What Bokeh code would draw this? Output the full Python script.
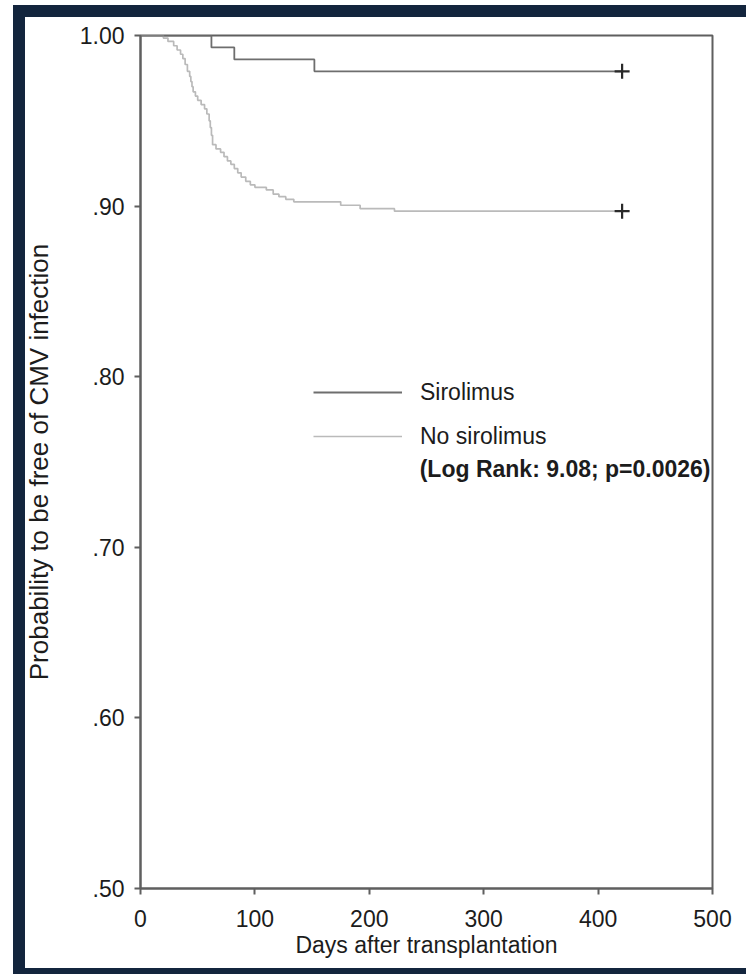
from bokeh.plotting import figure
from bokeh.models import Range1d, FixedTicker, Legend, LegendItem, Label
from bokeh.embed import file_html
from bokeh.resources import INLINE

# Kaplan-Meier steps: day of each step and survival after it
siro_days = [0, 62, 82, 152, 421]
siro_surv = [1.0, 0.993, 0.986, 0.979, 0.979]

nosiro_days = [0, 20, 24, 29, 32, 35, 37, 39, 41, 43,
               44, 45, 46, 48, 50, 53, 56, 58, 60, 61,
               62, 63, 66, 70, 73, 76, 79, 82, 85, 88,
               92, 96, 100, 110, 116, 121, 127, 134, 175, 192,
               222, 421]
nosiro_surv = [1.0, 0.9985, 0.9965, 0.994, 0.9915, 0.989, 0.9865, 0.983, 0.979, 0.976,
               0.973, 0.970, 0.967, 0.9645, 0.962, 0.9595, 0.957, 0.954, 0.950, 0.946,
               0.9415, 0.936, 0.9335, 0.9315, 0.929, 0.9265, 0.9245, 0.922, 0.9195, 0.917,
               0.9145, 0.9125, 0.911, 0.9095, 0.907, 0.9055, 0.904, 0.9025, 0.9005, 0.8985,
               0.897, 0.897]

x_ticks = [0, 100, 200, 300, 400, 500]
y_ticks = [0.5, 0.6, 0.7, 0.8, 0.9, 1.0]
y_tick_labels = [".50", ".60", ".70", ".80", ".90", "1.00"]

FONT = "Liberation Sans"
TEXT = "#1c1c1c"
AXIS = "#5f5f5f"
NAVY = "#13253d"

# dark page frame on the left, top and bottom, painted behind the canvas
frame_css = {
    "box-shadow": (f"inset 13px 5px 0 0 white, "
                   f"inset 25px 17px 0 0 {NAVY}, "
                   f"inset 0 -6px 0 0 {NAVY}"),
}

p = figure(width=746, height=974, output_backend="svg", toolbar_location=None,
           x_range=Range1d(0, 500), y_range=Range1d(0.5, 1.0),
           min_border_left=140, min_border_right=34,
           min_border_top=35, min_border_bottom=86,
           styles=frame_css)
p.grid.visible = False
p.background_fill_color = "white"
p.border_fill_alpha = 0
p.outline_line_color = AXIS
p.outline_line_width = 2

for ax in (p.xaxis[0], p.yaxis[0]):
    ax.axis_line_color = AXIS
    ax.axis_line_width = 2
    ax.major_tick_line_color = AXIS
    ax.major_tick_line_width = 2
    ax.major_tick_out = 6
    ax.major_tick_in = 0
    ax.minor_tick_line_color = None
    ax.major_label_text_font = FONT
    ax.major_label_text_font_size = "23px"
    ax.major_label_text_color = TEXT
    ax.axis_label_text_font = FONT
    ax.axis_label_text_font_style = "normal"
    ax.axis_label_text_color = TEXT

p.xaxis.ticker = FixedTicker(ticks=x_ticks)
p.xaxis.major_label_standoff = 15
p.xaxis.axis_label = "Days after transplantation"
p.xaxis.axis_label_text_font_size = "23px"
p.xaxis.axis_label_standoff = 2

p.yaxis.ticker = FixedTicker(ticks=y_ticks)
p.yaxis.major_label_overrides = dict(zip(y_ticks, y_tick_labels))
p.yaxis.major_label_standoff = 10
p.yaxis.axis_label = "Probability to be free of CMV infection"
p.yaxis.axis_label_text_font_size = "26px"
p.yaxis.axis_label_standoff = 23

# survival curves
r_no = p.step(nosiro_days, nosiro_surv, mode="after",
              line_color="#bababa", line_width=1.7)
r_si = p.step(siro_days, siro_surv, mode="after",
              line_color="#6e6e6e", line_width=1.8)

# censoring marks at the end of follow-up
p.scatter([siro_days[-1], nosiro_days[-1]], [siro_surv[-1], nosiro_surv[-1]],
          marker="cross", size=15, line_width=2.2, line_color="#2a2a2a")

legend = Legend(items=[LegendItem(label="Sirolimus", renderers=[r_si]),
                       LegendItem(label="No sirolimus", renderers=[r_no])],
                location=(173, 438), glyph_width=89, glyph_height=28,
                label_height=28, label_standoff=18, spacing=16,
                padding=0, margin=0, border_line_alpha=0,
                background_fill_alpha=0,
                label_text_font=FONT, label_text_font_size="23px",
                label_text_color=TEXT)
p.add_layout(legend)

p.add_layout(Label(x=570, y=420, x_units="screen", y_units="screen",
                   text="(Log Rank: 9.08; p=0.0026)", text_align="right",
                   text_baseline="middle", text_font=FONT,
                   text_font_size="23px", text_font_style="bold",
                   text_color=TEXT))

open("out.html", "w").write(file_html(p, INLINE))
